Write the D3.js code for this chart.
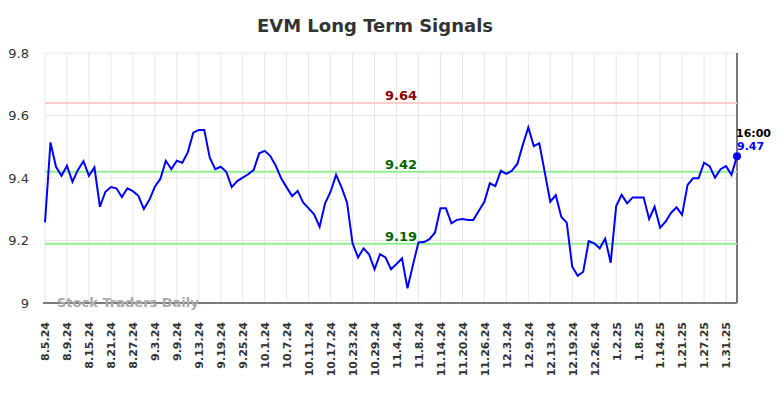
<!DOCTYPE html>
<html>
<head>
<meta charset="utf-8">
<script src="https://cdn.jsdelivr.net/npm/d3@7"></script>
<style>
  body { margin: 0; background: #fff; }
  svg { font-family: "DejaVu Sans", sans-serif; }
</style>
</head>
<body>
<div id="chart"></div>
<script>
// price per trading day, 8.5.24 .. 2.4.25 (16:00)
const prices = [
  9.258, 9.514, 9.436, 9.407, 9.439, 9.388, 9.426, 9.454, 9.407, 9.434,
  9.308, 9.356, 9.371, 9.367, 9.339, 9.367, 9.358, 9.343, 9.301, 9.330,
  9.372, 9.397, 9.455, 9.428, 9.455, 9.449, 9.482, 9.545, 9.554, 9.554,
  9.465, 9.428, 9.436, 9.420, 9.371, 9.390, 9.401, 9.412, 9.426, 9.479,
  9.487, 9.471, 9.440, 9.399, 9.370, 9.342, 9.359, 9.322, 9.303, 9.284,
  9.244, 9.319, 9.356, 9.410, 9.370, 9.321, 9.191, 9.146, 9.175, 9.156,
  9.108, 9.156, 9.146, 9.108, 9.125, 9.143, 9.047, 9.122, 9.194, 9.195,
  9.204, 9.225, 9.303, 9.303, 9.255, 9.266, 9.269, 9.266, 9.266, 9.295,
  9.324, 9.383, 9.374, 9.423, 9.413, 9.423, 9.445, 9.506, 9.562, 9.502,
  9.511, 9.418, 9.324, 9.345, 9.276, 9.257, 9.116, 9.087, 9.100, 9.198,
  9.191, 9.175, 9.206, 9.129, 9.310, 9.346, 9.319, 9.338, 9.338, 9.338,
  9.269, 9.308, 9.241, 9.260, 9.289, 9.306, 9.282, 9.378, 9.399, 9.399,
  9.449, 9.438, 9.401, 9.428, 9.438, 9.410, 9.470
];

// one label every 4 trading days
const tickLabels = [
  "8.5.24", "8.9.24", "8.15.24", "8.21.24", "8.27.24", "9.3.24", "9.9.24",
  "9.13.24", "9.19.24", "9.25.24", "10.1.24", "10.7.24", "10.11.24",
  "10.17.24", "10.23.24", "10.29.24", "11.4.24", "11.8.24", "11.14.24",
  "11.20.24", "11.26.24", "12.3.24", "12.9.24", "12.13.24", "12.19.24",
  "12.26.24", "1.2.25", "1.8.25", "1.14.25", "1.21.25", "1.27.25", "1.31.25"
];
const tickStep = 4;

const yTicks = [9, 9.2, 9.4, 9.6, 9.8];

const signals = [
  { value: 9.64, line: "#ffcccc", text: "#8b0000" },
  { value: 9.42, line: "#90ee90", text: "#006400" },
  { value: 9.19, line: "#90ee90", text: "#006400" }
];

const lastTime = "16:00";

const W = 784, H = 398;
const margin = { top: 53, right: 47, bottom: 95, left: 45 };
const innerW = W - margin.left - margin.right;
const innerH = H - margin.top - margin.bottom;

const svg = d3.select("#chart").append("svg")
  .attr("width", W)
  .attr("height", H);

svg.append("text")
  .attr("x", 375)
  .attr("y", 32)
  .attr("text-anchor", "middle")
  .attr("font-size", 18)
  .attr("font-weight", "bold")
  .attr("fill", "#333")
  .text("EVM Long Term Signals");

const g = svg.append("g")
  .attr("transform", `translate(${margin.left}, ${margin.top})`);

const x = d3.scaleLinear()
  .domain([0, prices.length - 1])
  .range([0, innerW]);
const y = d3.scaleLinear()
  .domain([9, 9.8])
  .range([innerH, 0]);

const tickIdx = tickLabels.map((d, i) => i * tickStep);

// grid
g.append("g")
  .selectAll("line")
  .data(tickIdx)
  .join("line")
  .attr("x1", d => x(d)).attr("x2", d => x(d))
  .attr("y1", 0).attr("y2", innerH)
  .attr("stroke", "#e6e6e6");
g.append("g")
  .selectAll("line")
  .data(yTicks)
  .join("line")
  .attr("x1", 0).attr("x2", innerW)
  .attr("y1", d => y(d)).attr("y2", d => y(d))
  .attr("stroke", "#e6e6e6");

// y axis labels
const yAxis = g.append("g")
  .call(d3.axisLeft(y).tickValues(yTicks).tickSize(0).tickPadding(16).tickFormat(d3.format("")));
yAxis.select(".domain").remove();
yAxis.selectAll("text")
  .attr("font-family", "DejaVu Sans, sans-serif")
  .attr("font-size", 13)
  .attr("fill", "#333");

// x axis
const xAxis = g.append("g")
  .attr("transform", `translate(0, ${innerH})`)
  .call(d3.axisBottom(x).tickValues(tickIdx).tickSize(0)
    .tickFormat((d, i) => tickLabels[i]));
xAxis.select(".domain").remove();
xAxis.selectAll("text")
  .attr("font-family", "DejaVu Sans, sans-serif")
  .attr("font-size", 11)
  .attr("font-weight", "bold")
  .attr("fill", "#333")
  .attr("text-anchor", "end")
  .attr("transform", "rotate(-90)")
  .attr("x", -19)
  .attr("y", 0)
  .attr("dy", "0.35em");

g.append("line")
  .attr("x1", -2).attr("x2", innerW)
  .attr("y1", innerH).attr("y2", innerH)
  .attr("stroke", "#555")
  .attr("stroke-width", 1.5);
g.append("line")
  .attr("x1", innerW).attr("x2", innerW)
  .attr("y1", 0).attr("y2", innerH)
  .attr("stroke", "#777")
  .attr("stroke-width", 2);

// watermark
g.append("text")
  .attr("x", 12)
  .attr("y", innerH + 4)
  .attr("font-size", 13)
  .attr("font-weight", "bold")
  .attr("fill", "#aaa")
  .text("Stock Traders Daily");

// signal levels
signals.forEach(s => {
  g.append("line")
    .attr("x1", 0).attr("x2", innerW)
    .attr("y1", y(s.value)).attr("y2", y(s.value))
    .attr("stroke", s.line)
    .attr("stroke-width", 2);
  g.append("text")
    .attr("x", 356)
    .attr("y", y(s.value) - 3)
    .attr("text-anchor", "middle")
    .attr("font-size", 13)
    .attr("font-weight", "bold")
    .attr("fill", s.text)
    .text(s.value.toFixed(2));
});

// price line
g.append("path")
  .datum(prices)
  .attr("fill", "none")
  .attr("stroke", "#0000ff")
  .attr("stroke-width", 2)
  .attr("d", d3.line().x((d, i) => x(i)).y(d => y(d)));

const last = prices.length - 1;
g.append("circle")
  .attr("cx", x(last))
  .attr("cy", y(prices[last]))
  .attr("r", 4)
  .attr("fill", "#0000ff");
g.append("text")
  .attr("x", x(last) - 1)
  .attr("y", y(prices[last]) - 19)
  .attr("font-size", 11)
  .attr("font-weight", "bold")
  .attr("fill", "#000")
  .text(lastTime);
g.append("text")
  .attr("x", x(last))
  .attr("y", y(prices[last]) - 6)
  .attr("font-size", 11)
  .attr("font-weight", "bold")
  .attr("fill", "#0000ff")
  .text(prices[last].toFixed(2));
</script>
</body>
</html>
